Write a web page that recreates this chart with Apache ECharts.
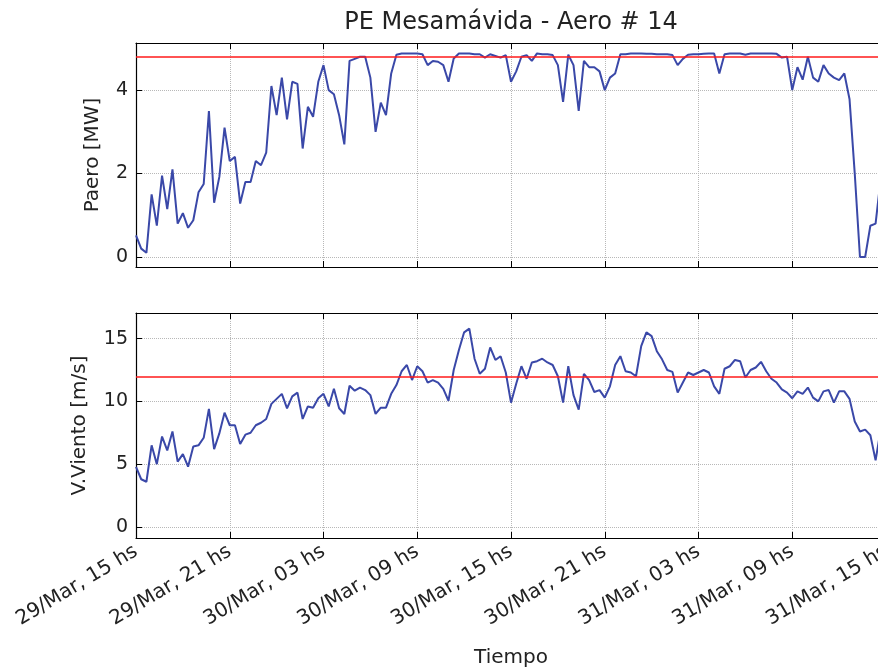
<!DOCTYPE html>
<html>
<head>
<meta charset="utf-8">
<title>PE Mesamávida - Aero # 14</title>
<script src="https://cdn.jsdelivr.net/npm/echarts@6/dist/echarts.min.js"></script>
<style>
  html, body { margin: 0; padding: 0; background: #fff; }
  #chart { width: 878px; height: 670px; }
</style>
</head>
<body>
<div id="chart"></div>
<script>
// muestras cada 20 min desde 29/Mar 15 hs (eje x en horas)
const stepHours = 1 / 3;
const tickLabels = ['29/Mar, 15 hs', '29/Mar, 21 hs', '30/Mar, 03 hs', '30/Mar, 09 hs', '30/Mar, 15 hs',
  '30/Mar, 21 hs', '31/Mar, 03 hs', '31/Mar, 09 hs', '31/Mar, 15 hs'];
const paeroTicks = [0, 2, 4];
const vientoTicks = [0, 5, 10, 15];
const paeroNominal = 4.8;
const vientoNominal = 12;

const paero = [
  0.52, 0.2, 0.1, 1.5, 0.75, 1.95, 1.15, 2.1, 0.8, 1.05,
  0.7, 0.88, 1.55, 1.75, 3.5, 1.3, 1.92, 3.1, 2.3, 2.4,
  1.28, 1.8, 1.8, 2.3, 2.2, 2.5, 4.1, 3.4, 4.3, 3.3,
  4.2, 4.15, 2.6, 3.6, 3.36, 4.2, 4.6, 4.0, 3.9, 3.4,
  2.7, 4.7, 4.75, 4.8, 4.8, 4.3, 3.0, 3.7, 3.4, 4.4,
  4.85, 4.88, 4.88, 4.88, 4.88, 4.86, 4.6, 4.7, 4.68, 4.6,
  4.2, 4.76, 4.88, 4.88, 4.88, 4.86, 4.86, 4.78, 4.86, 4.82,
  4.78, 4.84, 4.2, 4.45, 4.8, 4.84, 4.7, 4.88, 4.86, 4.86,
  4.84, 4.6, 3.72, 4.85, 4.6, 3.5, 4.7, 4.55, 4.55, 4.45,
  4.0, 4.3, 4.4, 4.86, 4.86, 4.88, 4.88, 4.88, 4.87, 4.87,
  4.86, 4.86, 4.86, 4.84, 4.6, 4.75, 4.85, 4.86, 4.86, 4.87,
  4.88, 4.88, 4.4, 4.86, 4.88, 4.88, 4.88, 4.85, 4.88, 4.88,
  4.88, 4.88, 4.88, 4.87, 4.78, 4.8, 4.0, 4.55, 4.25, 4.8,
  4.3, 4.2, 4.6, 4.4, 4.3, 4.24, 4.4, 3.78, 2.0, 0,
  0, 0.75, 0.8, 1.9
];

const viento = [
  4.79, 3.8, 3.6, 6.5, 5.0, 7.2, 6.1, 7.6, 5.2, 5.8,
  4.8, 6.4, 6.5, 7.1, 9.4, 6.2, 7.45, 9.1, 8.1, 8.1,
  6.6, 7.35, 7.5, 8.1, 8.3, 8.6, 9.8, 10.2, 10.6, 9.45,
  10.4, 10.7, 8.6, 9.6, 9.5, 10.25, 10.6, 9.6, 11.0, 9.45,
  9.0, 11.25, 10.85, 11.1, 10.9, 10.5, 9.0, 9.5, 9.5, 10.6,
  11.3, 12.4, 12.9, 11.7, 12.8, 12.4, 11.5, 11.7, 11.5, 11.0,
  10.05, 12.5, 14.1, 15.5, 15.8, 13.4, 12.2, 12.6, 14.3, 13.3,
  13.6, 12.3, 9.9, 11.4, 12.8, 11.8, 13.1, 13.2, 13.4, 13.1,
  12.9, 12.0, 9.9, 12.8, 10.5, 9.35, 12.2, 11.7, 10.75, 10.9,
  10.3, 11.2, 12.9, 13.6, 12.4, 12.3, 12.0, 14.4, 15.5, 15.2,
  14.0, 13.35, 12.5, 12.35, 10.7, 11.5, 12.3, 12.1, 12.3, 12.5,
  12.3, 11.2, 10.6, 12.6, 12.8, 13.3, 13.2, 11.9, 12.5, 12.7,
  13.15, 12.4, 11.8, 11.5, 10.95, 10.7, 10.25, 10.8, 10.6, 11.1,
  10.3, 10.0, 10.8, 10.9, 9.9, 10.8, 10.8, 10.2, 8.4, 7.6,
  7.75, 7.3, 5.3, 7.8
];

const font = 'DejaVu Sans';
const ink = '#222';

function pairs(values) {
  return values.map((v, i) => [i * stepHours, v]);
}

function timeAxis(gridIndex, position, withLabels) {
  return {
    type: 'value',
    gridIndex: gridIndex,
    position: position,
    min: 0,
    max: 48,
    interval: 6,
    axisLine: { show: true, onZero: false, lineStyle: { color: '#000', width: 1.2 } },
    axisTick: { show: true, inside: true, length: 6, lineStyle: { color: '#000' } },
    axisLabel: {
      show: withLabels,
      rotate: 31,
      margin: 12,
      fontFamily: font,
      fontSize: 20,
      color: ink,
      showMinLabel: true,
      showMaxLabel: true,
      formatter: v => tickLabels[Math.round(v / 6)]
    },
    splitLine: {
      show: position === 'bottom',
      lineStyle: { color: '#b8b8b8', type: 'dotted', width: 1 }
    }
  };
}

function valueAxis(gridIndex, min, max, ticks, name, nameGap) {
  return {
    type: 'value',
    gridIndex: gridIndex,
    min: min,
    max: max,
    name: name,
    nameLocation: 'middle',
    nameRotate: 90,
    nameGap: nameGap,
    nameTextStyle: { fontFamily: font, fontSize: 20, color: ink },
    axisLine: { show: true, onZero: false, lineStyle: { color: '#000', width: 1.2 } },
    axisTick: { show: true, inside: true, length: 6, customValues: ticks, lineStyle: { color: '#000' } },
    axisLabel: { margin: 8, fontFamily: font, fontSize: 19, color: ink, customValues: ticks },
    splitLine: { show: true, lineStyle: { color: '#b8b8b8', type: 'dotted', width: 1 } }
  };
}

function lineSeries(axisIndex, values, nominal) {
  return {
    type: 'line',
    xAxisIndex: axisIndex,
    yAxisIndex: axisIndex,
    data: pairs(values),
    showSymbol: false,
    lineStyle: { color: '#3a48a8', width: 2 },
    markLine: {
      silent: true,
      symbol: 'none',
      label: { show: false },
      lineStyle: { color: '#ff1a1a', type: 'solid', width: 1.5 },
      data: [{ yAxis: nominal }]
    }
  };
}

const chart = echarts.init(document.getElementById('chart'));
chart.setOption({
  animation: false,
  backgroundColor: '#fff',
  title: {
    text: 'PE Mesamávida - Aero # 14',
    left: 506,
    top: 6,
    textAlign: 'center',
    textStyle: { fontFamily: font, fontSize: 24, fontWeight: 'normal', color: ink }
  },
  grid: [
    { left: 136, top: 43, width: 750, height: 224, outerBoundsMode: 'none' },
    { left: 136, top: 313, width: 750, height: 225, outerBoundsMode: 'none' }
  ],
  xAxis: [
    timeAxis(0, 'bottom', false),
    Object.assign(timeAxis(1, 'bottom', true), {
      name: 'Tiempo',
      nameLocation: 'middle',
      nameGap: 110,
      nameTextStyle: { fontFamily: font, fontSize: 20, color: ink }
    }),
    timeAxis(0, 'top', false),
    timeAxis(1, 'top', false)
  ],
  yAxis: [
    valueAxis(0, -0.24, 5.13, paeroTicks, 'Paero [MW]', 33),
    valueAxis(1, -0.88, 17.04, vientoTicks, 'V.Viento [m/s]', 46)
  ],
  series: [
    lineSeries(0, paero, paeroNominal),
    lineSeries(1, viento, vientoNominal)
  ]
});
</script>
</body>
</html>
